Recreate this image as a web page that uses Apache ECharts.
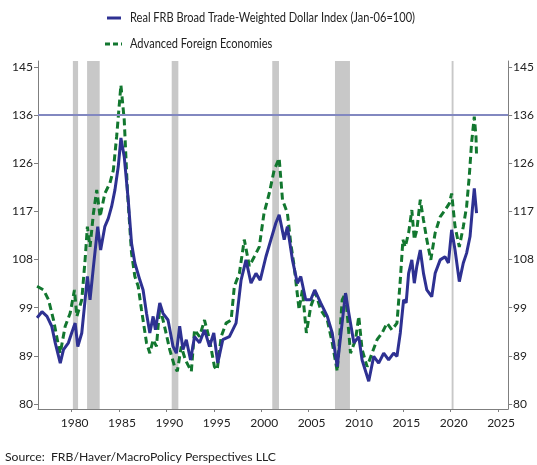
<!DOCTYPE html>
<html><head><meta charset="utf-8">
<script src="https://cdn.jsdelivr.net/npm/echarts@6/dist/echarts.min.js"></script>
<style>html,body{margin:0;padding:0;background:#fff}#c{width:537px;height:465px}</style>
</head><body><div id="c"></div>
<script>
const FONT = 'Lato, "Liberation Sans", sans-serif';
// Real FRB Broad Trade-Weighted Dollar Index (Jan-06=100)
const broadYears = [1976.35,1976.87,1977.4,1977.9,1978.27,1978.8,1979.14,1979.66,1980.0,1980.37,1980.65,1981.07,1981.42,1981.66,1981.94,1982.3,1982.75,1983.06,1983.5,1983.87,1984.22,1984.57,1984.92,1985.2,1985.55,1985.97,1986.32,1986.67,1987.2,1987.54,1987.9,1988.25,1988.6,1988.84,1989.3,1989.64,1990.17,1990.7,1991.05,1991.4,1991.75,1992.1,1992.55,1992.97,1993.5,1994.02,1994.55,1995.0,1995.42,1995.95,1996.65,1997.35,1997.88,1998.4,1998.93,1999.45,1999.9,2000.5,2001.03,2001.55,2001.9,2002.43,2002.77,2003.3,2003.82,2004.18,2004.7,2005.23,2005.65,2006.28,2006.98,2007.5,2008.03,2008.38,2008.9,2009.25,2009.78,2010.3,2010.65,2011.35,2011.88,2012.4,2012.93,2013.45,2013.98,2014.33,2014.68,2015.03,2015.3,2015.56,2015.9,2016.16,2016.43,2016.79,2017.13,2017.48,2018.0,2018.36,2018.89,2019.4,2019.76,2020.1,2020.46,2020.91,2021.33,2021.68,2022.04,2022.28,2022.49,2022.73];
const broadVals = [96.6,97.8,96.9,95.0,91.8,87.9,90.5,91.8,93.7,95.6,91.1,93.7,100.1,104.6,100.1,106.5,114.2,109.7,114.2,115.8,118.1,121.3,125.8,131.3,127.7,119.4,111.0,107.2,103.9,102.0,97.5,93.7,96.9,94.3,99.5,97.5,96.2,91.1,89.8,95.0,90.5,92.4,88.5,93.0,91.8,94.3,91.1,93.7,87.9,92.4,93.0,95.6,103.9,107.8,103.3,105.2,103.9,108.4,111.7,114.9,116.5,111.7,114.2,107.8,103.3,104.6,100.1,100.1,102.0,99.5,96.9,93.7,87.2,93.0,101.4,97.5,91.8,93.0,88.5,84.4,89.2,87.9,89.8,88.5,89.8,89.2,93.7,100.1,99.5,105.2,107.8,103.3,106.6,109.7,105.2,102.0,100.7,105.2,107.8,108.4,107.2,113.6,109.7,103.6,107.2,109.1,112.3,117.4,121.6,116.8];
// Advanced Foreign Economies
const afeYears = [1976.35,1977.04,1977.56,1978.09,1978.55,1978.8,1979.32,1979.84,1980.3,1980.55,1981.07,1981.42,1981.66,1981.94,1982.3,1982.65,1983.0,1983.5,1984.04,1984.4,1984.75,1985.2,1985.55,1985.9,1986.32,1986.67,1987.02,1987.37,1987.9,1988.25,1988.6,1988.95,1989.3,1989.8,1990.35,1990.87,1991.15,1991.57,1992.0,1992.63,1992.97,1993.5,1994.02,1994.55,1995.07,1995.36,1995.78,1996.3,1996.83,1997.17,1997.7,1998.22,1998.75,1999.27,1999.8,2000.3,2000.85,2001.37,2001.9,2002.25,2002.77,2003.12,2003.48,2004.0,2004.35,2004.77,2005.23,2005.75,2006.28,2006.98,2007.5,2008.03,2008.55,2008.9,2009.43,2009.96,2010.3,2010.65,2011.18,2011.7,2012.23,2012.76,2013.28,2013.8,2014.33,2014.68,2014.96,2015.2,2015.56,2015.9,2016.16,2016.43,2016.79,2017.13,2017.48,2017.9,2018.36,2018.89,2019.4,2019.86,2020.1,2020.46,2020.91,2021.33,2021.68,2021.96,2022.2,2022.49,2022.67,2022.73];
const afeVals = [102.7,102.0,100.1,96.2,91.8,89.8,95.0,97.5,102.0,96.9,100.1,107.8,114.2,110.3,116.8,121.3,116.1,120.6,122.6,125.1,131.6,141.5,134.8,120.6,109.1,104.6,102.7,98.2,91.8,89.8,92.4,91.1,98.8,95.0,90.5,87.2,86.3,91.1,88.5,86.3,94.3,93.0,96.2,92.4,87.2,86.6,93.0,95.6,96.2,102.7,105.2,111.7,106.6,108.4,110.3,116.8,120.6,125.1,127.4,119.4,116.8,111.0,106.6,98.2,102.0,93.7,98.8,101.4,98.2,96.2,91.8,86.3,100.1,101.4,89.8,92.4,96.9,90.5,87.2,89.8,92.4,93.7,95.6,94.3,95.6,103.9,111.7,110.3,113.0,117.4,111.7,113.6,119.4,115.5,111.7,107.8,113.0,116.1,117.4,118.7,120.6,114.2,110.3,114.2,118.1,123.9,130.3,135.4,131.5,127.7];
// Recessions (start, end)
const recessStart = [1980.13,1981.63,1990.56,2001.17,2007.79,2020.1];
const recessEnd   = [1980.68,1982.96,1991.26,2001.88,2009.37,2020.3];
// Axis ticks
const yTicks = [80,89.2857,98.5714,107.8571,117.1429,126.4286,135.7143,145];
const xTicks = [1980,1985,1990,1995,2000,2005,2010,2015,2020,2025];
const refLevel = 135.7143;
const seriesNames = ['Real FRB Broad Trade-Weighted Dollar Index (Jan-06=100)','Advanced Foreign Economies'];
const sourceText = 'Source:  FRB/Haver/MacroPolicy Perspectives LLC';

const BLUE = '#2e3192', GREEN = '#12772f';
const zip = (a,b)=>a.map((v,i)=>[v,b[i]]);
const mctx = document.createElement('canvas').getContext('2d');
function fitScale(str, size, target){ mctx.font = size+'px '+FONT; return target / mctx.measureText(str).width; }

const chart = echarts.init(document.getElementById('c'));
const axisCol = '#7f7f7f';
function yAxis(pos){
  return {type:'value', position:pos, min:79.04, max:146.15,
    axisLine:{show:true,lineStyle:{color:axisCol,width:1}},
    axisTick:{show:true,length:4,customValues:yTicks,lineStyle:{color:axisCol}},
    axisLabel:{customValues:yTicks,formatter:v=>String(Math.round(v)),color:'#222',fontSize:12,fontFamily:FONT,margin:5},
    splitLine:{show:false}};
}
const s1 = fitScale(seriesNames[0],13,285), s2 = fitScale(sourceText,12,271);
chart.setOption({
  animation:false,
  textStyle:{fontFamily:FONT},
  grid:{left:38,right:27,top:61,bottom:56},
  xAxis:{type:'value',min:1976.45,max:2026.06,
    axisLine:{show:true,onZero:false,lineStyle:{color:axisCol}},
    axisTick:{show:true,length:3,customValues:xTicks,lineStyle:{color:axisCol}},
    axisLabel:{customValues:xTicks,formatter:v=>String(v),color:'#222',fontSize:12,fontFamily:FONT,margin:8,padding:[0,0,0,6]},
    splitLine:{show:false}},
  yAxis:[yAxis('left'),yAxis('right')],
  series:[
    {name:seriesNames[1],type:'line',symbol:'none',z:2,
     data:zip(afeYears,afeVals),
     lineStyle:{color:GREEN,width:3,type:[7,4]},itemStyle:{color:GREEN},
     markArea:{silent:true,itemStyle:{color:'#c8c8c8'},
       data:recessStart.map((s,i)=>[{xAxis:s},{xAxis:recessEnd[i]}])},
     markLine:{silent:true,symbol:'none',label:{show:false},
       lineStyle:{color:'#8288c0',width:2,type:'solid'},data:[{yAxis:refLevel}]}},
    {name:seriesNames[0],type:'line',symbol:'none',z:3,
     data:zip(broadYears,broadVals),
     lineStyle:{color:BLUE,width:3},itemStyle:{color:BLUE}}
  ],
  graphic:[
    {type:'line',shape:{x1:107,y1:18,x2:121,y2:18},style:{stroke:BLUE,lineWidth:3}},
    {type:'text',x:130,y:18,scaleX:s1,style:{text:seriesNames[0],fontSize:13,fontFamily:FONT,fill:'#222',verticalAlign:'middle'}},
    {type:'line',shape:{x1:105,y1:44,x2:122,y2:44},style:{stroke:GREEN,lineWidth:3,lineDash:[5,3]}},
    {type:'text',x:130,y:44,scaleX:s1,style:{text:seriesNames[1],fontSize:13,fontFamily:FONT,fill:'#222',verticalAlign:'middle'}},
    {type:'text',x:5,y:457,scaleX:s2,style:{text:sourceText,fontSize:12,fill:'#222',fontFamily:FONT,verticalAlign:'middle'}}
  ]
});
</script></body></html>
